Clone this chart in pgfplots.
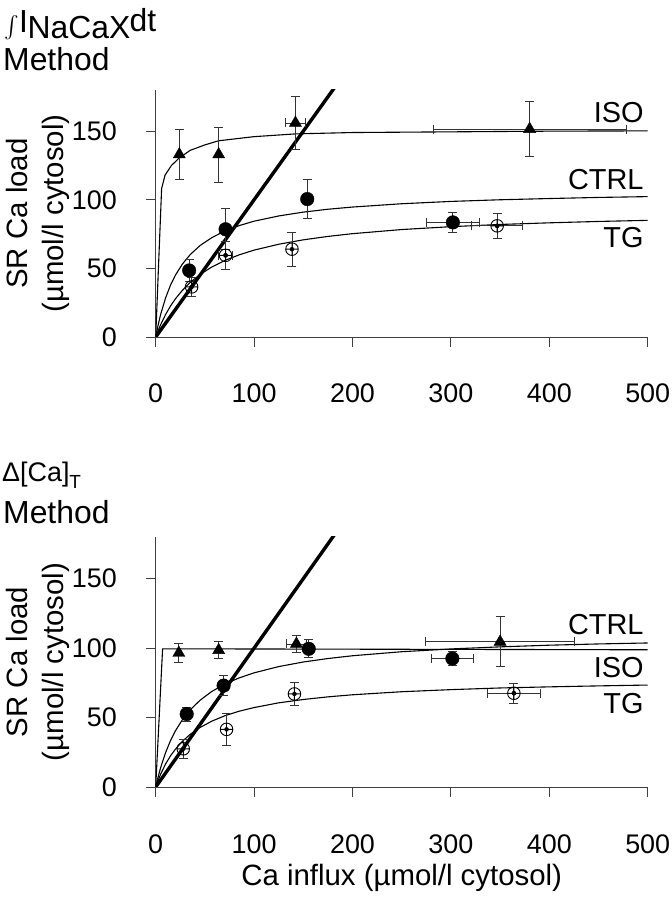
\documentclass[border=0pt]{standalone}
\usepackage{fontspec}
\setmainfont{Liberation Sans}
\usepackage{graphicx}
\usepackage{pgfplots}
\pgfplotsset{compat=1.18}

\tikzset{lab/.style={anchor=base east, inner sep=0pt, font=\fontsize{29}{29}\selectfont},
  ttl/.style={anchor=base west, inner sep=0pt, font=\fontsize{32}{32}\selectfont}}
\pgfplotsset{
  myax/.style={
    scale only axis, width=492bp,
    xmin=0, xmax=500, ymin=0, ymax=180,
    axis lines=left,
    axis line style={-, draw=black!75, line width=0.9bp},
    tick align=outside, major tick length=10bp,
    tick style={draw=black!75, line width=0.9bp},
    xtick={0,100,200,300,400,500}, ytick={0,50,100,150},
    /pgf/number format/assume math mode=true,
    tick label style={font=\fontsize{27}{27}\selectfont, inner sep=0pt},
    xticklabel style={anchor=base, yshift=-56bp},
    yticklabel style={anchor=east, xshift=-28.7bp},
    ylabel={SR Ca load\\(µmol/l cytosol)},
    ylabel style={at={(axis description cs:-0.24,0.5)}, anchor=center, align=center, font=\fontsize{29.5}{36}\selectfont},
  },
  fitc/.style={black, line width=1.1bp, mark=none},
  diag/.style={black, line width=3.4bp, mark=none},
  yerr/.style={only marks, mark=none,
    error bars/.cd, y dir=both, y explicit,
    error bar style={black!80, line width=0.8bp},
    error mark options={rotate=90, mark size=4.5bp, black!80, line width=0.8bp}},
  xerr/.style={only marks, mark=none,
    error bars/.cd, x dir=both, x explicit,
    error bar style={black!80, line width=0.8bp},
    error mark options={rotate=90, mark size=4.5bp, black!80, line width=0.8bp}},
  tri/.style={only marks, mark=triangle*, mark size=7bp, mark options={fill=black, draw=black}},
  fcirc/.style={only marks, mark=*, mark size=6.8bp, mark options={fill=black, draw=black}},
  ocirc/.style={only marks, mark=oplus, mark size=6.3bp, mark options={fill=white, draw=black, line width=0.9bp}},
}

% Top panel data: x y ex ey
\pgfplotstableread{
x y ex ey
24 133 0 18
64 133 0 20
142 156 10 19.5
380 151.5 98 20
}\isoA
\pgfplotstableread{
x y ex ey
34 48.5 0 8
71 78.5 0 15
154 100.5 0 14
302 83.5 27 7
}\ctrlA
\pgfplotstableread{
x y ex ey
36.5 36.5 0 7
71 59.5 7 10
138.5 64 0 12.5
347 81 26 9
}\tgA
% Bottom panel data
\pgfplotstableread{
x y ex ey
23.5 96.5 0 7
64 98.5 0 6
143 103 10 6
350 104.5 76 18
}\isoB
\pgfplotstableread{
x y ex ey
31.5 52.5 0 5
69 73 0 7
155.5 99.5 0 6.5
301.5 92.5 21.5 5
}\ctrlB
\pgfplotstableread{
x y ex ey
28 27.5 0 7
72 41.5 0 11.5
141 67 0 8.5
364 67.5 27 7
}\tgB

\begin{document}
\begin{tikzpicture}
\useasboundingbox (0,0) rectangle (672bp,900bp);

% titles
\node[anchor=base west, inner sep=0pt, font=\fontsize{10}{12}\selectfont] at (4bp,867bp)
  {\raisebox{-0.5bp}{\scalebox{2.2}{$\int$}}};
\node[ttl] at (19bp,867bp) {I};
\node[ttl] at (27.5bp,861bp) {NaCaX};
\node[ttl] at (129.5bp,868bp) {dt};
\node[anchor=base west, inner sep=0pt] at (3bp,829.3bp) {\fontsize{32}{32}\selectfont Method};
\node[anchor=base west, inner sep=0pt] at (2bp,418bp)
  {\fontsize{27}{27}\selectfont Δ[Ca]\raisebox{-7bp}{\fontsize{19}{19}\selectfont T}};
\node[anchor=base west, inner sep=0pt] at (3bp,376bp) {\fontsize{32}{32}\selectfont Method};

% ---------------- top panel ----------------
\begin{axis}[myax, height=247bp, at={(155.7bp,563bp)}, anchor=south west]
\addplot[fitc] coordinates {(0,0) (6,108) (9.5,118) (16,125) (24,130.5) (35,136) (50,140) (64,143) (100,146) (142,148) (200,149) (300,149.5) (400,150) (500,150.2)};
\addplot[fitc] coordinates {(0,0) (2,7.2) (5,16.4) (10,28.4) (15,37.7) (20,45) (27,53) (35,60) (45,66.6) (57,72.4) (71,77.5) (85,81.2) (100,84.4) (125,88.2) (150,91) (175,93.1) (200,94.7) (250,97.1) (300,98.8) (350,100) (400,100.9) (450,101.7) (500,102.3)};
\addplot[fitc] coordinates {(0,0) (2,3.8) (5,8.9) (10,16.3) (15,22.5) (20,27.8) (27,33.9) (35,39.7) (45,45.5) (57,51) (71,56) (85,59.9) (100,63.3) (125,67.6) (150,70.8) (175,73.3) (200,75.3) (250,78.3) (300,80.4) (350,82) (400,83.2) (450,84.2) (500,85)};
\addplot[diag] coordinates {(0,0) (182,182)};
% error bars
\addplot[yerr] table[x=x, y=y, y error=ey] {\isoA};
\addplot[yerr] table[x=x, y=y, y error=ey] {\ctrlA};
\addplot[yerr] table[x=x, y=y, y error=ey] {\tgA};
\addplot[xerr] table[x=x, y=y, x error=ex] {
x y ex
142 156 10
380 151.5 98
};
\addplot[xerr] table[x=x, y=y, x error=ex] {
x y ex
302 83.5 27
};
\addplot[xerr] table[x=x, y=y, x error=ex] {
x y ex
71 59.5 7
347 81 26
};
% markers
\addplot[tri] table[x=x, y=y] {\isoA};
\addplot[fcirc] table[x=x, y=y] {\ctrlA};
\addplot[ocirc] table[x=x, y=y] {\tgA};
\node[lab] at (axis cs:496,156.5) {ISO};
\node[lab] at (axis cs:496,107.5) {CTRL};
\node[lab] at (axis cs:496,65.1) {TG};
\end{axis}

% ---------------- bottom panel ----------------
\begin{axis}[myax, height=250bp, at={(155.7bp,113bp)}, anchor=south west,
  xlabel={Ca influx (µmol/l cytosol)},
  xlabel style={at={(axis description cs:0.5,-0.364)}, anchor=center, font=\fontsize{29.5}{29.5}\selectfont}]
\addplot[fitc] coordinates {(0,0) (7,99.5) (500,98.8)};
\addplot[fitc] coordinates {(0,0) (2,6) (5,13.9) (10,24.7) (15,33.3) (20,40.4) (27,48.3) (35,55.5) (45,62.4) (57,68.8) (71,74.3) (85,78.6) (100,82.2) (125,86.7) (150,90) (175,92.5) (200,94.5) (250,97.4) (300,99.4) (350,100.9) (400,102.1) (450,103) (500,103.7)};
\addplot[fitc] coordinates {(0,0) (2,4) (5,9.2) (10,16.5) (15,22.4) (20,27.2) (27,32.8) (35,37.9) (45,42.8) (57,47.4) (71,51.5) (85,54.6) (100,57.2) (125,60.6) (150,63) (175,64.9) (200,66.4) (250,68.6) (300,70.1) (350,71.3) (400,72.1) (450,72.8) (500,73.4)};
\addplot[diag] coordinates {(0,0) (182,182)};
\addplot[yerr] table[x=x, y=y, y error=ey] {\isoB};
\addplot[yerr] table[x=x, y=y, y error=ey] {\ctrlB};
\addplot[yerr] table[x=x, y=y, y error=ey] {\tgB};
\addplot[xerr] table[x=x, y=y, x error=ex] {
x y ex
143 103 10
350 104.5 76
};
\addplot[xerr] table[x=x, y=y, x error=ex] {
x y ex
301.5 92.5 21.5
};
\addplot[xerr] table[x=x, y=y, x error=ex] {
x y ex
364 67.5 27
};
\addplot[tri] table[x=x, y=y] {\isoB};
\addplot[fcirc] table[x=x, y=y] {\ctrlB};
\addplot[ocirc] table[x=x, y=y] {\tgB};
\node[lab] at (axis cs:496,110) {CTRL};
\node[lab] at (axis cs:496,78.6) {ISO};
\node[lab] at (axis cs:496,52.9) {TG};
\end{axis}
\end{tikzpicture}
\end{document}
